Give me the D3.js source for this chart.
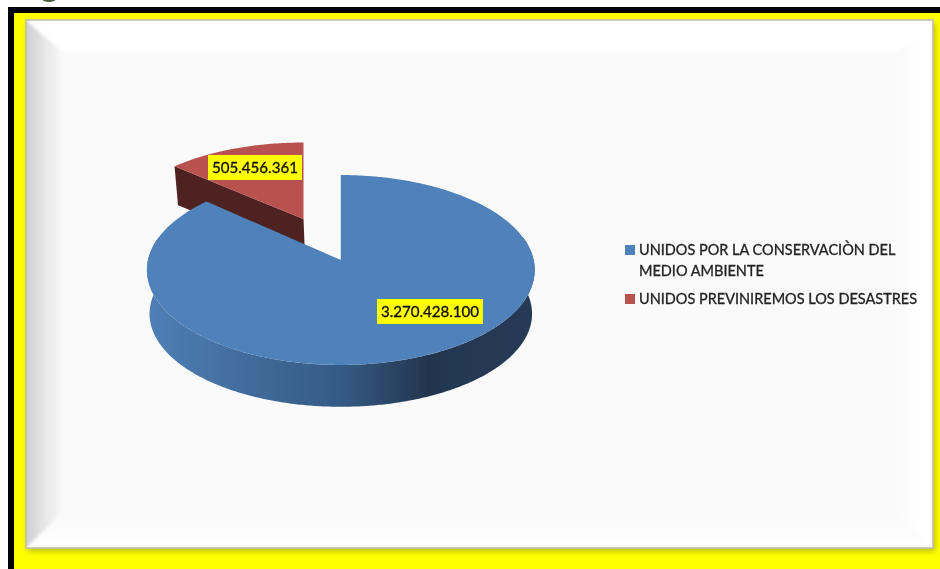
<!DOCTYPE html>
<html><head><meta charset="utf-8">
<style>html,body{margin:0;padding:0;background:#fff;overflow:hidden}svg{display:block}</style>
<script src="https://cdn.jsdelivr.net/npm/d3@7"></script></head><body>
<svg id="c" width="940" height="569"></svg>
<script>
const categories = ["UNIDOS POR LA CONSERVACIÒN DEL MEDIO AMBIENTE", "UNIDOS PREVINIREMOS LOS DESASTRES"];
const legendLines = [["UNIDOS POR LA CONSERVACIÒN DEL","MEDIO AMBIENTE"],["UNIDOS PREVINIREMOS LOS DESASTRES"]];
const values = [3270428100, 505456361];
const topColors = ["#4f81bb","#b9514f"];

const fmt = d3.formatLocale({decimal:",",thousands:".",grouping:[3],currency:["",""]}).format(",d");
const svg = d3.select("#c");
const defs = svg.append("defs");

// Frame
svg.append("rect").attr("x",8).attr("y",7).attr("width",932).attr("height",562).attr("fill","#000");
svg.append("rect").attr("x",14).attr("y",13).attr("width",926).attr("height",556).attr("fill","#ffff00");
svg.append("ellipse").attr("cx",49).attr("cy",-1).attr("rx",7).attr("ry",3).attr("fill","#4a5a3a");

const shadow = defs.append("filter").attr("id","sh").attr("x","-5%").attr("y","-5%").attr("width","110%").attr("height","110%");
shadow.append("feDropShadow").attr("dx",2).attr("dy",3).attr("stdDeviation",3).attr("flood-color","#000").attr("flood-opacity",0.28);
const blurWide = defs.append("filter").attr("id","bw").attr("x","-5%").attr("y","-5%").attr("width","110%").attr("height","110%");
blurWide.append("feGaussianBlur").attr("stdDeviation",1.4);
const blurFine = defs.append("filter").attr("id","bf").attr("x","-5%").attr("y","-5%").attr("width","110%").attr("height","110%");
blurFine.append("feGaussianBlur").attr("stdDeviation",0.55);
const blurText = defs.append("filter").attr("id","bt").attr("x","-5%").attr("y","-20%").attr("width","110%").attr("height","140%");
blurText.append("feGaussianBlur").attr("stdDeviation",0.4);

function lin(id,x1,y1,x2,y2,stops){
  const g=defs.append("linearGradient").attr("id",id).attr("gradientUnits","userSpaceOnUse")
    .attr("x1",x1).attr("y1",y1).attr("x2",x2).attr("y2",y2);
  stops.forEach(s=>g.append("stop").attr("offset",s[0]).attr("stop-color",s[1]));
}
const L=26,T=20,R=933,B=548, iL=62,iT=52,iR=898,iB=513;
lin("gl",L,0,iL,0,[[0,"#cfcfcf"],[0.5,"#e6e6e6"],[1,"#f8f8f8"]]);
lin("gb",0,iB,0,B,[[0,"#f9f9f9"],[1,"#ffffff"]]);
lin("gr",iR,0,R,0,[[0,"#fafafa"],[0.6,"#ffffff"],[1,"#ffffff"]]);
svg.append("rect").attr("x",L).attr("y",T).attr("width",R-L).attr("height",B-T)
  .attr("fill","#fff").attr("filter","url(#sh)");
defs.append("clipPath").attr("id","panel").append("rect").attr("x",L).attr("y",T).attr("width",R-L).attr("height",B-T);
const bevelClip=svg.append("g").attr("clip-path","url(#panel)");
const bevel=bevelClip.append("g").attr("filter","url(#bw)");
const poly=(pts,fill)=>bevel.append("polygon").attr("points",pts.map(p=>p.join(",")).join(" ")).attr("fill",fill);
bevel.append("rect").attr("x",L-12).attr("y",T-12).attr("width",R-L+24).attr("height",B-T+24).attr("fill","#fff");
poly([[L,T],[L,B],[iL,iB],[iL,iT]],"url(#gl)");
poly([[L-12,T],[L,T],[L,B],[L-12,B]],"#cfcfcf");
poly([[R+12,T-12],[R+12,B+12],[iR,iB],[iR,iT]],"url(#gr)");
poly([[L,B],[R+12,B+12],[iR,iB],[iL,iB]],"url(#gb)");
bevel.append("rect").attr("x",iL).attr("y",iT).attr("width",iR-iL).attr("height",iB-iT).attr("fill","#fafafa");
svg.append("rect").attr("x",L).attr("y",T).attr("width",R-L).attr("height",B-T)
  .attr("fill","none").attr("stroke","#bdbdb0").attr("stroke-width",1.5);

// Perspective projection of the unit disc
const k=0.105;
function proj(theta,o){ // theta clockwise from the top
  const u=Math.sin(theta), v=Math.cos(theta), w=1+k*v;
  return [o.x+o.a*u/w, o.y-o.b*v/w];
}
const topFace={x:340.8,y:260,a:192.8,b:93.9};
const baseFace={x:340.8,y:304,a:190.2,b:92};
const redTop={x:303.5,y:219,a:topFace.a*0.96,b:topFace.b*0.9};
const redBase={x:redTop.x+1.5,y:redTop.y+38,a:redTop.a*0.985,b:redTop.b*0.985};

const arcs=d3.pie().sort(null).value(d=>d)(values);
const line=d3.line();
const rim=(a0,a1,f)=>{const n=Math.max(2,Math.ceil(Math.abs(a1-a0)/0.01));return d3.range(n+1).map(i=>proj(a0+(a1-a0)*i/n,f));};

const pie=svg.append("g").attr("filter","url(#bf)");

// Exploded slice
const r=arcs[1];
pie.append("path").attr("d",line([[redTop.x,redTop.y],[redBase.x,redBase.y],proj(r.startAngle,redBase),proj(r.startAngle,redTop)])+"Z").attr("fill","#4f2120");
pie.append("path").attr("d",line([[redTop.x,redTop.y],...rim(r.startAngle,r.endAngle,redTop)])+"Z").attr("fill",topColors[1]);

// Main slice
lin("side",148,0,535,0,[[0,"#4f7fb6"],[0.25,"#426c9c"],[0.5,"#355a84"],[0.72,"#233650"],[1,"#263a55"]]);
const b=arcs[0];
const front=[...rim(Math.PI*0.42,Math.PI*1.58,topFace),...rim(Math.PI*1.58,Math.PI*0.42,baseFace)];
pie.append("path").attr("d",line(front)+"Z").attr("fill","url(#side)");
pie.append("path").attr("d",line([[topFace.x,topFace.y],...rim(b.startAngle,b.endAngle,topFace)])+"Z").attr("fill",topColors[0]);

// Data labels
const labelFont="Lato, 'Open Sans', sans-serif";
const labelBoxes=[{x:377,y:299,w:106,h:25},{x:208,y:155,w:94,h:25}];
labelBoxes.forEach((q,i)=>{
  svg.append("rect").attr("x",q.x).attr("y",q.y).attr("width",q.w).attr("height",q.h).attr("fill","#ffff00");
  svg.append("text").attr("x",q.x+q.w/2).attr("y",q.y+q.h/2+5.5).attr("text-anchor","middle")
    .attr("font-family",labelFont).attr("font-size",15.1)
    .attr("fill","#111").attr("stroke","#111").attr("stroke-width",0.35).attr("filter","url(#bt)").text(fmt(values[i]));
});

// Legend
const legendRows=[{sy:245,base:[255,276]},{sy:294,base:[304]}];
legendRows.forEach((row,i)=>{
  svg.append("rect").attr("x",625).attr("y",row.sy).attr("width",10).attr("height",10).attr("fill",topColors[i]);
  legendLines[i].forEach((t,j)=>svg.append("text").attr("x",639).attr("y",row.base[j])
    .attr("font-family",labelFont).attr("font-size",14.5)
    .attr("fill","#222").attr("stroke","#222").attr("stroke-width",0.3).attr("filter","url(#bt)").text(t));
});
</script></body></html>
